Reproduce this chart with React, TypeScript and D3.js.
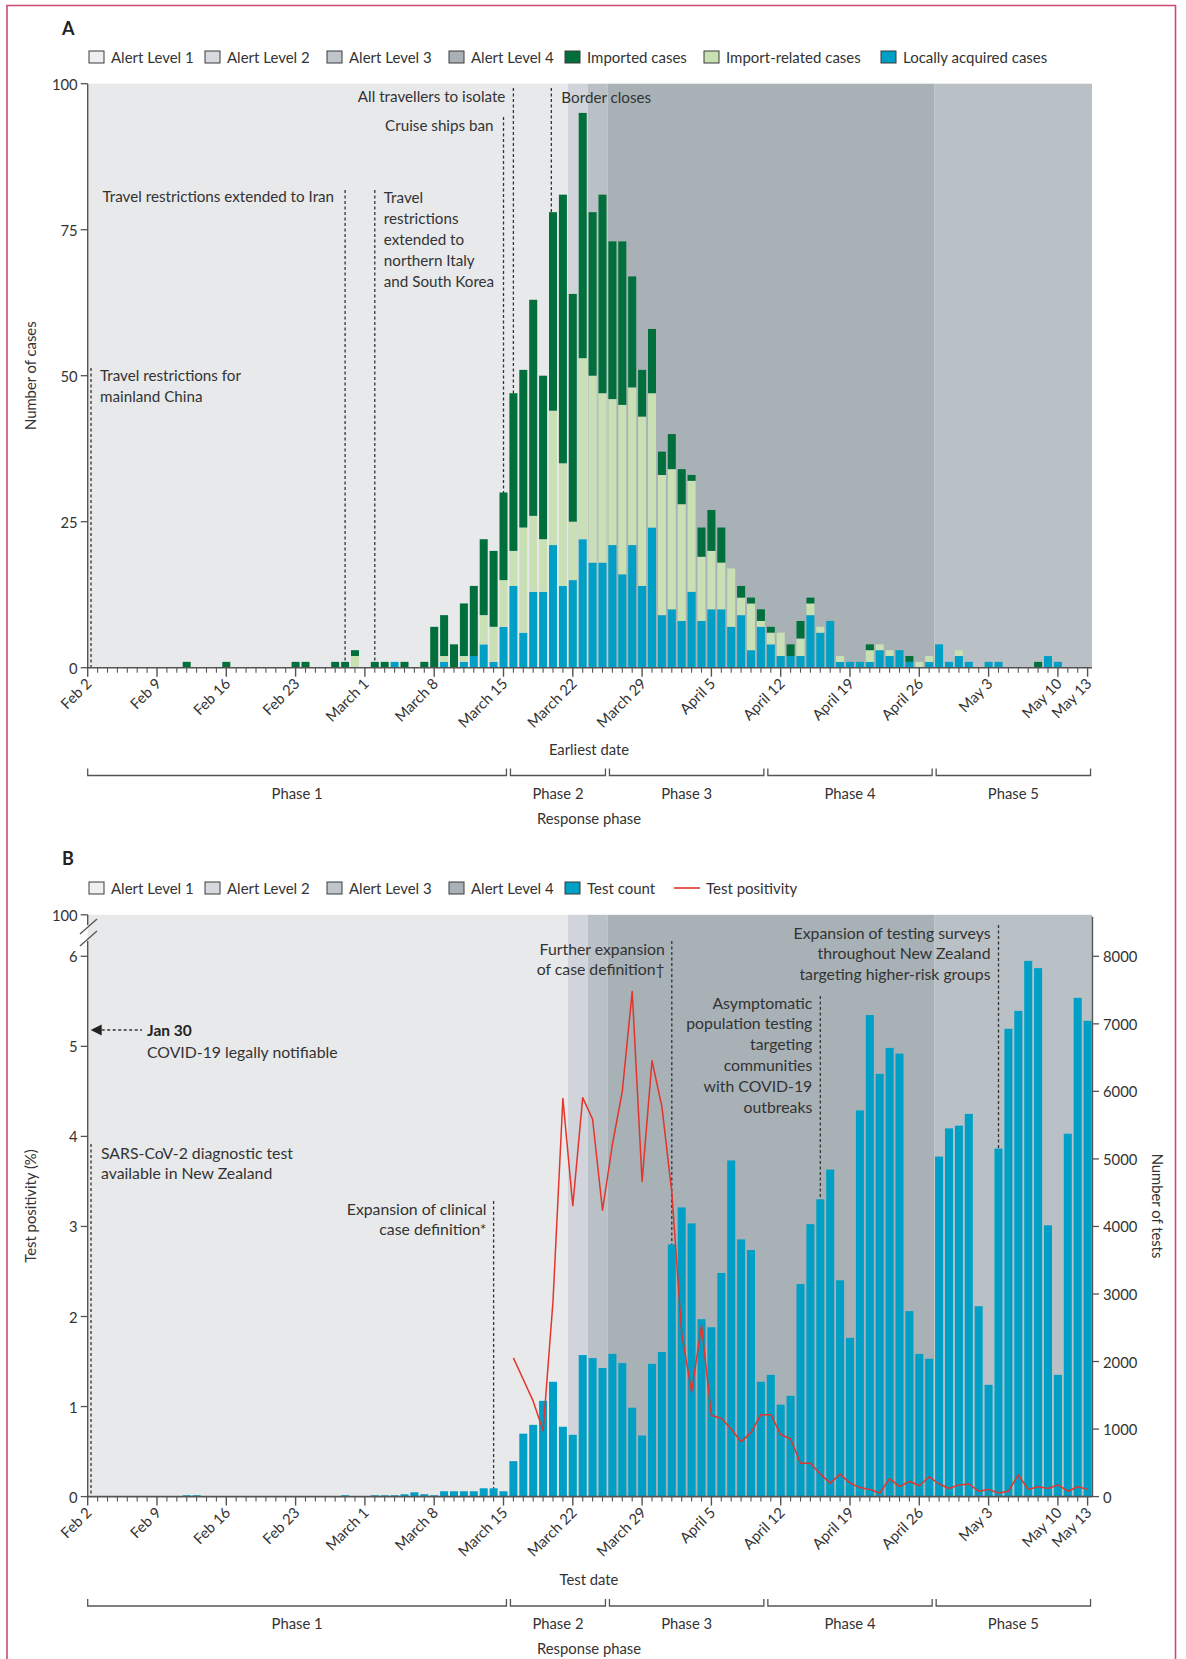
import React from 'react'
import * as d3 from 'd3'

// one value per day, Feb 2 – May 13, 2020 (rows are weeks starting on the date in the comment)
const firstDay = new Date(2020, 1, 2)
const lastDay = new Date(2020, 4, 13)
const days = d3.timeDay.range(firstDay, d3.timeDay.offset(lastDay, 1))

const importedCases = [
	0, 0, 0, 0, 0, 0, 0, // Feb 2
	0, 0, 0, 1, 0, 0, 0, // Feb 9
	1, 0, 0, 0, 0, 0, 0, // Feb 16
	1, 1, 0, 0, 1, 1, 1, // Feb 23
	0, 1, 1, 0, 1, 0, 1, // Mar 1
	7, 7, 4, 9, 12, 13, 13, // Mar 8
	15, 27, 27, 37, 28, 34, 46, // Mar 15
	39, 42, 28, 34, 27, 28, 19, // Mar 22
	8, 11, 4, 6, 6, 1, 5, // Mar 29
	7, 6, 0, 2, 1, 2, 1, // Apr 5
	0, 2, 3, 1, 0, 0, 0, // Apr 12
	0, 0, 1, 0, 0, 0, 1, // Apr 19
	0, 0, 0, 0, 0, 0, 0, // Apr 26
	0, 0, 0, 0, 0, 1, 0, // May 3
	0, 0, 0, 0 // May 10
]

const importRelatedCases = [
	0, 0, 0, 0, 0, 0, 0,
	0, 0, 0, 0, 0, 0, 0,
	0, 0, 0, 0, 0, 0, 0,
	0, 0, 0, 0, 0, 0, 2,
	0, 0, 0, 0, 0, 0, 0,
	0, 1, 0, 1, 0, 5, 6,
	8, 6, 18, 13, 9, 23, 21,
	10, 31, 32, 29, 25, 29, 27,
	29, 23, 24, 24, 20, 19, 11,
	10, 8, 10, 3, 8, 1, 2,
	4, 0, 3, 2, 1, 0, 1,
	0, 0, 2, 1, 1, 0, 0,
	1, 1, 0, 0, 1, 0, 0,
	0, 0, 0, 0, 0, 0, 0,
	0, 0, 0, 0
]

const localCases = [
	0, 0, 0, 0, 0, 0, 0,
	0, 0, 0, 0, 0, 0, 0,
	0, 0, 0, 0, 0, 0, 0,
	0, 0, 0, 0, 0, 0, 0,
	0, 0, 0, 1, 0, 0, 0,
	0, 1, 0, 1, 2, 4, 1,
	7, 14, 6, 13, 13, 21, 14,
	15, 22, 18, 18, 21, 16, 21,
	14, 24, 9, 10, 8, 13, 8,
	10, 10, 7, 9, 3, 7, 4,
	2, 2, 2, 9, 6, 8, 1,
	1, 1, 1, 3, 2, 3, 1,
	0, 1, 4, 1, 2, 1, 0,
	1, 1, 0, 0, 0, 0, 2,
	1, 0, 0, 0
]

const testCounts = [
	0, 5, 5, 5, 5, 5, 5,
	5, 5, 5, 20, 20, 5, 5,
	5, 5, 5, 5, 5, 5, 5,
	5, 5, 5, 5, 5, 20, 5,
	5, 20, 20, 20, 35, 64, 35,
	20, 79, 79, 79, 79, 123, 123,
	79, 525, 932, 1062, 1418, 1700, 1034,
	915, 2096, 2051, 1904, 2113, 1977, 1316,
	904, 1966, 2141, 3734, 4282, 4045, 2627,
	2508, 3311, 4977, 3808, 3650, 1700, 1802,
	1362, 1492, 3147, 4034, 4401, 4842, 3203,
	2350, 5718, 7130, 6260, 6644, 6559, 2746,
	2113, 2040, 5034, 5452, 5492, 5667, 2819,
	1655, 5153, 6927, 7192, 7932, 7825, 4017,
	1802, 5373, 7384, 7045
]

const testPositivity = [
	null, null, null, null, null, null, null,
	null, null, null, null, null, null, null,
	null, null, null, null, null, null, null,
	null, null, null, null, null, null, null,
	null, null, null, null, null, null, null,
	null, null, null, null, null, null, null,
	null, 1.54, 1.3, 1.06, 0.73, 2.17, 4.42,
	3.23, 4.43, 4.19, 3.18, 3.91, 4.5, 5.61,
	3.5, 4.84, 4.33, 3.38, 1.81, 1.16, 1.9,
	0.9, 0.87, 0.75, 0.61, 0.71, 0.91, 0.91,
	0.69, 0.64, 0.37, 0.37, 0.25, 0.15, 0.25,
	0.15, 0.1, 0.08, 0.04, 0.2, 0.11, 0.17,
	0.12, 0.22, 0.14, 0.09, 0.13, 0.14, 0.06,
	0.08, 0.04, 0.06, 0.24, 0.08, 0.11, 0.09,
	0.13, 0.06, 0.11, 0.08
]

const alertPeriods = [
	{ level: 1, from: '2020-02-02', to: '2020-03-21' },
	{ level: 2, from: '2020-03-22', to: '2020-03-23' },
	{ level: 3, from: '2020-03-24', to: '2020-03-25' },
	{ level: 4, from: '2020-03-26', to: '2020-04-27' },
	{ level: 3, from: '2020-04-28', to: '2020-05-13' }
]

const phases = [
	{ name: 'Phase 1', from: '2020-02-02', to: '2020-03-15' },
	{ name: 'Phase 2', from: '2020-03-16', to: '2020-03-25' },
	{ name: 'Phase 3', from: '2020-03-26', to: '2020-04-10' },
	{ name: 'Phase 4', from: '2020-04-11', to: '2020-04-27' },
	{ name: 'Phase 5', from: '2020-04-28', to: '2020-05-13' }
]

const caseEvents = [
	{ when: '2020-02-02 08:00', lines: ['Travel restrictions for', 'mainland China'] },
	{ when: '2020-02-28 00:00', lines: ['Travel restrictions extended to Iran'] },
	{ when: '2020-03-02 00:00', lines: ['Travel', 'restrictions', 'extended to', 'northern Italy', 'and South Korea'] },
	{ when: '2020-03-15 00:00', lines: ['Cruise ships ban'] },
	{ when: '2020-03-16 00:00', lines: ['All travellers to isolate'] },
	{ when: '2020-03-19 20:00', lines: ['Border closes'] }
]

const testEvents = [
	{ when: '2020-02-02 08:00', lines: ['SARS-CoV-2 diagnostic test', 'available in New Zealand'] },
	{ when: '2020-03-14 00:00', lines: ['Expansion of clinical', 'case definition*'] },
	{ when: '2020-04-01 00:00', lines: ['Further expansion', 'of case definition†'] },
	{ when: '2020-04-16 00:00', lines: ['Asymptomatic', 'population testing', 'targeting', 'communities', 'with COVID-19', 'outbreaks'] },
	{ when: '2020-05-04 00:00', lines: ['Expansion of testing surveys', 'throughout New Zealand', 'targeting higher-risk groups'] }
]

const caseTicks = [0, 25, 50, 75, 100]
const positivityTicks = [0, 1, 2, 3, 4, 5, 6]
const testTicks = [0, 1000, 2000, 3000, 4000, 5000, 6000, 7000, 8000]
const monthNames = ['Jan', 'Feb', 'March', 'April', 'May']

const caseLegend = ['Alert Level 1', 'Alert Level 2', 'Alert Level 3', 'Alert Level 4', 'Imported cases', 'Import-related cases', 'Locally acquired cases']
const testLegend = ['Alert Level 1', 'Alert Level 2', 'Alert Level 3', 'Alert Level 4', 'Test count']

// ---------- layout / style ----------
const W = 1186
const H = 1659
const FONT = 'Lato, "Open Sans", sans-serif'
const TEXT = '#333'
const AXIS = '#555'
const xLeft = 87.7
const xRight = 1092

const alertFill = { 1: '#e8e9eb', 2: '#d1d5db', 3: '#b9c0c6', 4: '#a8b1b6' }
const alertLegendFill = ['#eeeff0', '#d6d9de', '#bfc5ca', '#a9b1b6']
const seriesColor = { imported: '#006f3c', related: '#c9e0b5', local: '#00a0c6' }
const lineColor = '#e4342b'

const caseLegendX = [89, 205, 327, 449, 565, 704, 881]
const caseEventLayout = [
	{ top: 368, first: 375, side: 'right', gap: 9 },
	{ top: 190, first: 196, side: 'left', gap: 11 },
	{ top: 190, first: 197, side: 'right', gap: 9 },
	{ top: 117, first: 125, side: 'left', gap: 10 },
	{ top: 88, first: 96, side: 'left', gap: 8 },
	{ top: 88, first: 97, side: 'right', gap: 10 }
]
const testEventLayout = [
	{ top: 1144, first: 1152, side: 'right', gap: 10 },
	{ top: 1201, first: 1208, side: 'left', gap: 7 },
	{ top: 941, first: 948, side: 'left', gap: 7 },
	{ top: 996, first: 1002, side: 'left', gap: 8 },
	{ top: 925, first: 932, side: 'left', gap: 8 }
]

const parseDay = d3.timeParse('%Y-%m-%d')
const parseTime = d3.timeParse('%Y-%m-%d %H:%M')

const x = d3.scaleTime().domain([firstDay, lastDay]).range([87.7, 1087.6])
const step = x(days[1]) - x(days[0])
const barW = step * 0.81

const yCases = d3.scaleLinear().domain([0, 100]).range([667.7, 83.7])
const yPos = d3.scaleLinear().domain([0, 6]).range([1496.6, 956.3])
const yTests = d3.scaleLinear().domain([0, 8000]).range([1496.6, 956.3])
const testTop = 914.8

const caseRows = days.map((d, i) => ({
	date: d,
	local: localCases[i],
	related: importRelatedCases[i],
	imported: importedCases[i]
}))
const stacked = d3.stack().keys(['local', 'related', 'imported'])(caseRows)

const tickLabel = (d: Date) => `${monthNames[d.getMonth()]} ${d.getDate()}`

function AlertBands({ top, bottom }) {
	return (
		<g>
			{alertPeriods.map((p, i) => {
				const x0 = Math.max(xLeft, x(parseDay(p.from)) - step / 2)
				const x1 = Math.min(xRight, x(parseDay(p.to)) + step / 2)
				return <rect key={i} x={x0} y={top} width={x1 - x0} height={bottom - top} fill={alertFill[p.level]} />
			})}
		</g>
	)
}

function EventLines({ events, layout, bottom }) {
	return (
		<g>
			{events.map((e, i) => {
				const xe = x(parseTime(e.when))
				return (
					<line key={i} x1={xe} x2={xe} y1={layout[i].top} y2={bottom}
						stroke="#333" strokeWidth={1.3} strokeDasharray="3 2.5" />
				)
			})}
		</g>
	)
}

function EventTexts({ events, layout, lineHeight, size }) {
	return (
		<g fontFamily={FONT} fontSize={size} fill={TEXT}>
			{events.map((e, i) => {
				const l = layout[i]
				const xe = x(parseTime(e.when))
				const tx = l.side === 'right' ? xe + l.gap : xe - l.gap
				return e.lines.map((t, j) => (
					<text key={`${i}-${j}`} x={tx} y={l.first + j * lineHeight} dominantBaseline="central"
						textAnchor={l.side === 'right' ? 'start' : 'end'}>{t}</text>
				))
			})}
		</g>
	)
}

function DateAxis({ y0, title, phaseY }) {
	return (
		<g fontFamily={FONT} fill={TEXT}>
			<line x1={xLeft - 1} x2={xRight} y1={y0} y2={y0} stroke={AXIS} strokeWidth={1.6} />
			{days.map((d, i) => {
				const major = i % 7 === 0 || i === days.length - 1
				return <line key={i} x1={x(d)} x2={x(d)} y1={y0} y2={y0 + (major ? 9 : 5)} stroke={AXIS} strokeWidth={major ? 1.4 : 1.1} />
			})}
			{days.filter((d, i) => i % 7 === 0 || i === days.length - 1).map((d, i) => (
				<text key={i} fontSize={14.8} textAnchor="end"
					transform={`translate(${x(d) + 5},${y0 + 17}) rotate(-45)`}>{tickLabel(d)}</text>
			))}
			<text x={589} y={phaseY - 27} fontSize={14.8} textAnchor="middle" dominantBaseline="central">{title}</text>
			{phases.map((p, i) => {
				const x0 = Math.max(xLeft, x(parseDay(p.from)) - step / 2 + 2)
				const x1 = Math.min(xRight - 0.5, x(parseDay(p.to)) + step / 2 - 2)
				return (
					<g key={i}>
						<path d={`M${x0},${phaseY - 7}V${phaseY}H${x1}V${phaseY - 7}`} fill="none" stroke={AXIS} strokeWidth={1.3} />
						<text x={(x0 + x1) / 2} y={phaseY + 17} fontSize={14.8} textAnchor="middle" dominantBaseline="central">{p.name}</text>
					</g>
				)
			})}
			<text x={589} y={phaseY + 42} fontSize={14.8} textAnchor="middle" dominantBaseline="central">Response phase</text>
		</g>
	)
}

function Legend({ items, y, xs, fills }) {
	return (
		<g fontFamily={FONT} fontSize={15} fill={TEXT}>
			{items.map((t, i) => (
				<g key={i}>
					<rect x={xs[i]} y={y - 6} width={15} height={12} fill={fills[i]} stroke="#3a3a3a" strokeWidth={1} />
					<text x={xs[i] + 22} y={y} dominantBaseline="central">{t}</text>
				</g>
			))}
		</g>
	)
}

export default function App() {
	const line = d3.line<number | null>()
		.defined(d => d != null)
		.x((d, i) => x(days[i]))
		.y(d => yPos(d as number))

	return (
		<svg width={W} height={H} style={{ position: 'absolute', left: 0, top: 0, background: '#fff' }}>
			<rect width={W} height={H} fill="#fff" />
			<path d={`M7,${H}V5.5H1175.5V${H}`} fill="none" stroke="#d2496d" strokeWidth={1.6} />

			{/* ---------- Panel A ---------- */}
			<text x={62} y={28} fontFamily={FONT} fontSize={18} fontWeight="bold" fill="#222" dominantBaseline="central">A</text>
			<Legend items={caseLegend} y={57} xs={caseLegendX}
				fills={[...alertLegendFill, seriesColor.imported, seriesColor.related, seriesColor.local]} />

			<AlertBands top={yCases(100)} bottom={yCases(0)} />
			<EventLines events={caseEvents} layout={caseEventLayout} bottom={yCases(0)} />
			<g>
				{stacked.map(s => (
					<g key={s.key} fill={seriesColor[s.key]}>
						{s.map((d, i) => d[1] > d[0] ? (
							<rect key={i} x={x(days[i]) - barW / 2} y={yCases(d[1])} width={barW} height={yCases(d[0]) - yCases(d[1])} />
						) : null)}
					</g>
				))}
			</g>
			<EventTexts events={caseEvents} layout={caseEventLayout} lineHeight={21} size={15.2} />

			<g fontFamily={FONT} fontSize={14.8} fill={TEXT}>
				<line x1={xLeft} x2={xLeft} y1={yCases(100)} y2={yCases(0)} stroke={AXIS} strokeWidth={1.4} />
				{caseTicks.map(t => (
					<g key={t}>
						<line x1={xLeft - 7} x2={xLeft} y1={yCases(t)} y2={yCases(t)} stroke={AXIS} strokeWidth={1.3} />
						<text x={xLeft - 10} y={yCases(t)} textAnchor="end" dominantBaseline="central">{t}</text>
					</g>
				))}
				<text transform={`translate(30,${yCases(50)}) rotate(-90)`} textAnchor="middle" dominantBaseline="central">Number of cases</text>
			</g>
			<DateAxis y0={yCases(0)} title="Earliest date" phaseY={775.5} />

			{/* ---------- Panel B ---------- */}
			<text x={62} y={858} fontFamily={FONT} fontSize={18} fontWeight="bold" fill="#222" dominantBaseline="central">B</text>
			<Legend items={testLegend} y={888} xs={caseLegendX}
				fills={[...alertLegendFill, seriesColor.local]} />
			<line x1={674} x2={700} y1={888} y2={888} stroke={lineColor} strokeWidth={1.6} />
			<text x={706} y={888} fontFamily={FONT} fontSize={15} fill={TEXT} dominantBaseline="central">Test positivity</text>

			<AlertBands top={testTop} bottom={yTests(0)} />
			<EventLines events={testEvents} layout={testEventLayout} bottom={yTests(0)} />
			<g fill={seriesColor.local}>
				{testCounts.map((v, i) => v > 0 ? (
					<rect key={i} x={x(days[i]) - barW / 2} y={yTests(v)} width={barW} height={yTests(0) - yTests(v)} />
				) : null)}
			</g>
			<path d={line(testPositivity) || ''} fill="none" stroke={lineColor} strokeWidth={1.5} strokeLinejoin="round" />
			<EventTexts events={testEvents} layout={testEventLayout} lineHeight={20.8} size={15.8} />

			{/* Jan 30 arrow */}
			<path d={`M${xLeft + 3},1030L${xLeft + 14},1024.5V1035.5Z`} fill="#222" />
			<line x1={xLeft + 14} x2={142} y1={1030} y2={1030} stroke="#333" strokeWidth={1.3} strokeDasharray="3 2.5" />
			<text x={147} y={1030} fontFamily={FONT} fontSize={15.5} fontWeight="bold" fill="#222" dominantBaseline="central">Jan 30</text>
			<text x={147} y={1051} fontFamily={FONT} fontSize={15.8} fill={TEXT} dominantBaseline="central">COVID-19 legally notifiable</text>

			<g fontFamily={FONT} fontSize={14.8} fill={TEXT}>
				{/* left axis with break */}
				<line x1={xLeft} x2={xLeft} y1={testTop} y2={925} stroke={AXIS} strokeWidth={1.4} />
				<line x1={xLeft} x2={xLeft} y1={941} y2={yPos(0)} stroke={AXIS} strokeWidth={1.4} />
				<line x1={80} x2={97} y1={934} y2={919} stroke={AXIS} strokeWidth={1.3} />
				<line x1={80} x2={97} y1={946} y2={931} stroke={AXIS} strokeWidth={1.3} />
				<line x1={xLeft - 7} x2={xLeft} y1={testTop} y2={testTop} stroke={AXIS} strokeWidth={1.3} />
				<text x={xLeft - 10} y={testTop} textAnchor="end" dominantBaseline="central">100</text>
				{positivityTicks.map(t => (
					<g key={t}>
						<line x1={xLeft - 7} x2={xLeft} y1={yPos(t)} y2={yPos(t)} stroke={AXIS} strokeWidth={1.3} />
						<text x={xLeft - 10} y={yPos(t)} textAnchor="end" dominantBaseline="central">{t}</text>
					</g>
				))}
				<text transform={`translate(30,1206) rotate(-90)`} textAnchor="middle" dominantBaseline="central">Test positivity (%)</text>

				{/* right axis */}
				<line x1={xRight + 0.5} x2={xRight + 0.5} y1={testTop + 2} y2={yTests(0)} stroke={AXIS} strokeWidth={1.4} />
				{testTicks.map(t => (
					<g key={t}>
						<line x1={xRight} x2={xRight + 7} y1={yTests(t)} y2={yTests(t)} stroke={AXIS} strokeWidth={1.3} />
						<text x={xRight + 11} y={yTests(t)} dominantBaseline="central">{t}</text>
					</g>
				))}
				<text transform={`translate(1158,1206) rotate(90)`} textAnchor="middle" dominantBaseline="central">Number of tests</text>
			</g>
			<DateAxis y0={yTests(0)} title="Test date" phaseY={1606} />
		</svg>
	)
}
